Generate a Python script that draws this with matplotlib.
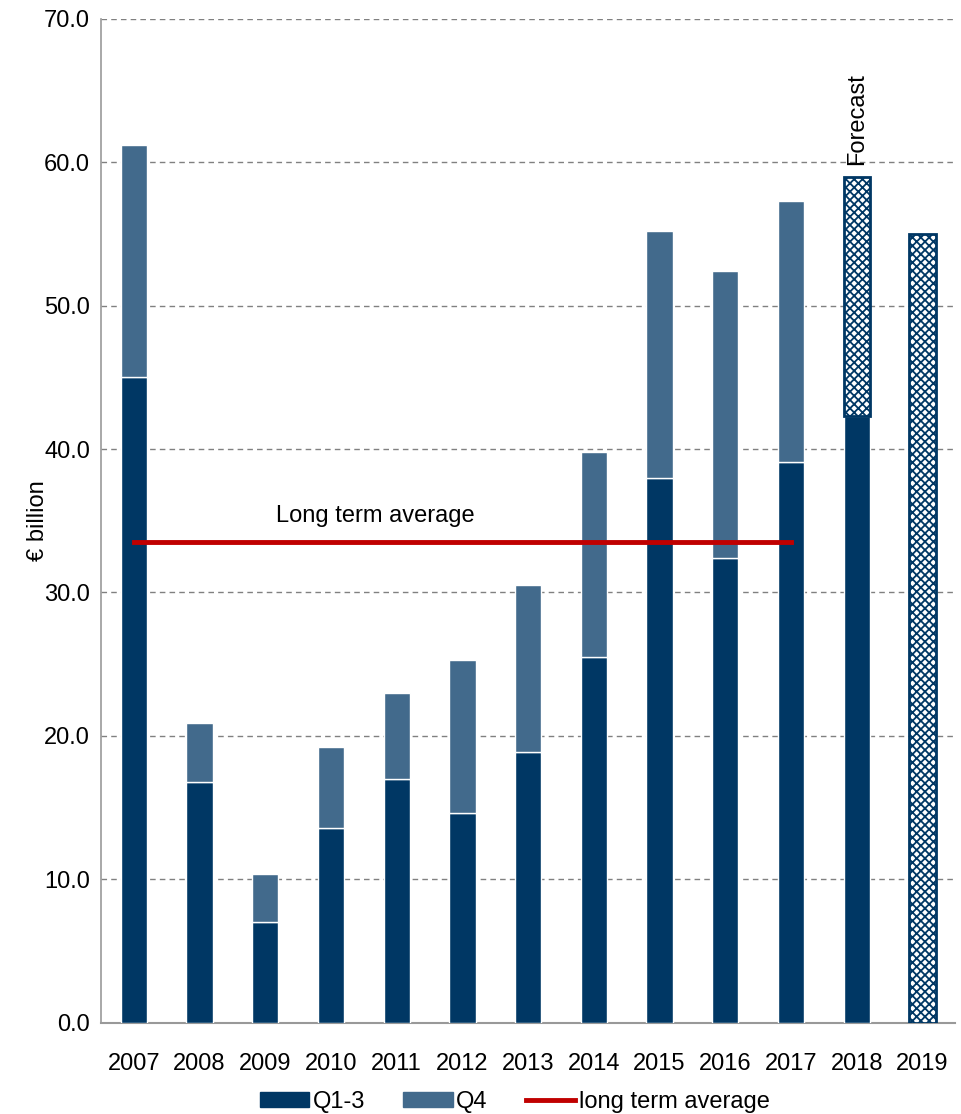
import matplotlib
matplotlib.use("Agg")
import matplotlib.pyplot as plt
from matplotlib.lines import Line2D
from matplotlib.patches import Patch

years = ["2007", "2008", "2009", "2010", "2011", "2012", "2013",
         "2014", "2015", "2016", "2017", "2018", "2019"]
q13 = [45.0, 16.8, 7.0, 13.6, 17.0, 14.6, 18.9, 25.5, 38.0, 32.4, 39.1, 42.3, 0.0]
q4 = [16.2, 4.1, 3.4, 5.6, 6.0, 10.7, 11.6, 14.3, 17.2, 20.0, 18.2, 0.0, 0.0]
# forecast part (hatched): 2018 remainder and full 2019
forecast = [0, 0, 0, 0, 0, 0, 0, 0, 0, 0, 0, 16.7, 55.0]
long_term_avg = 33.5

navy = "#003764"
steel = "#426A8C"
red = "#C00000"
fs = 17
plt.rcParams["font.family"] = ["Liberation Sans", "DejaVu Sans"]
plt.rcParams["hatch.color"] = "#2E5A80"
plt.rcParams["hatch.linewidth"] = 1.3

fig, ax = plt.subplots(figsize=(9.62, 11.14), dpi=100)
fig.subplots_adjust(left=0.105, right=0.993, top=0.983, bottom=0.082)

x = list(range(len(years)))
w = 0.4
ax.bar(x, q13, width=w, color=navy, edgecolor="white", linewidth=1, zorder=3)
ax.bar(x, q4, width=w, bottom=q13, color=steel, edgecolor="white", linewidth=1, zorder=3)
fx = [i for i in x if forecast[i] > 0]
ax.bar(fx, [forecast[i] for i in fx], width=w, bottom=[q13[i] for i in fx],
       color="white", edgecolor=navy, hatch="xxxx", linewidth=2, zorder=3)

ax.plot([0, 10], [long_term_avg, long_term_avg], color=red, linewidth=3.5, zorder=4)
ax.text(3.68, 35.3, "Long term average", ha="center", va="center", fontsize=fs)
ax.text(11, 59.8, "Forecast", rotation=90, ha="center", va="bottom", fontsize=fs)

ax.set_ylim(0, 70)
ax.set_xlim(-0.5, 12.5)
ax.set_yticks(range(0, 71, 10))
ax.set_yticklabels(["%.1f" % v for v in range(0, 71, 10)], fontsize=fs)
ax.set_xticks(x)
ax.set_xticklabels(years, fontsize=fs)
ax.tick_params(axis="y", length=0, pad=8)
ax.tick_params(axis="x", length=0, pad=22)
ax.set_ylabel("€ billion", fontsize=fs, labelpad=-4)
ax.yaxis.grid(True, linestyle=(0, (4, 3)), color="#808080", linewidth=1, zorder=0)
ax.set_axisbelow(True)
for s in ["top", "right"]:
    ax.spines[s].set_visible(False)
ax.spines["left"].set_color("#999999")
ax.spines["bottom"].set_color("#999999")
ax.spines["left"].set_linewidth(1.2)
ax.spines["bottom"].set_linewidth(1.5)

handles = [Patch(color=navy, label="Q1-3"), Patch(color=steel, label="Q4"),
           Line2D([0], [0], color=red, linewidth=3.5, label="long term average")]
fig.legend(handles=handles, loc="lower center", ncol=3, frameon=False, fontsize=fs,
           bbox_to_anchor=(0.535, -0.018), handlelength=2.1, handleheight=0.6,
           columnspacing=1.6, handletextpad=0.15)

fig.savefig("out.png", dpi=100)
